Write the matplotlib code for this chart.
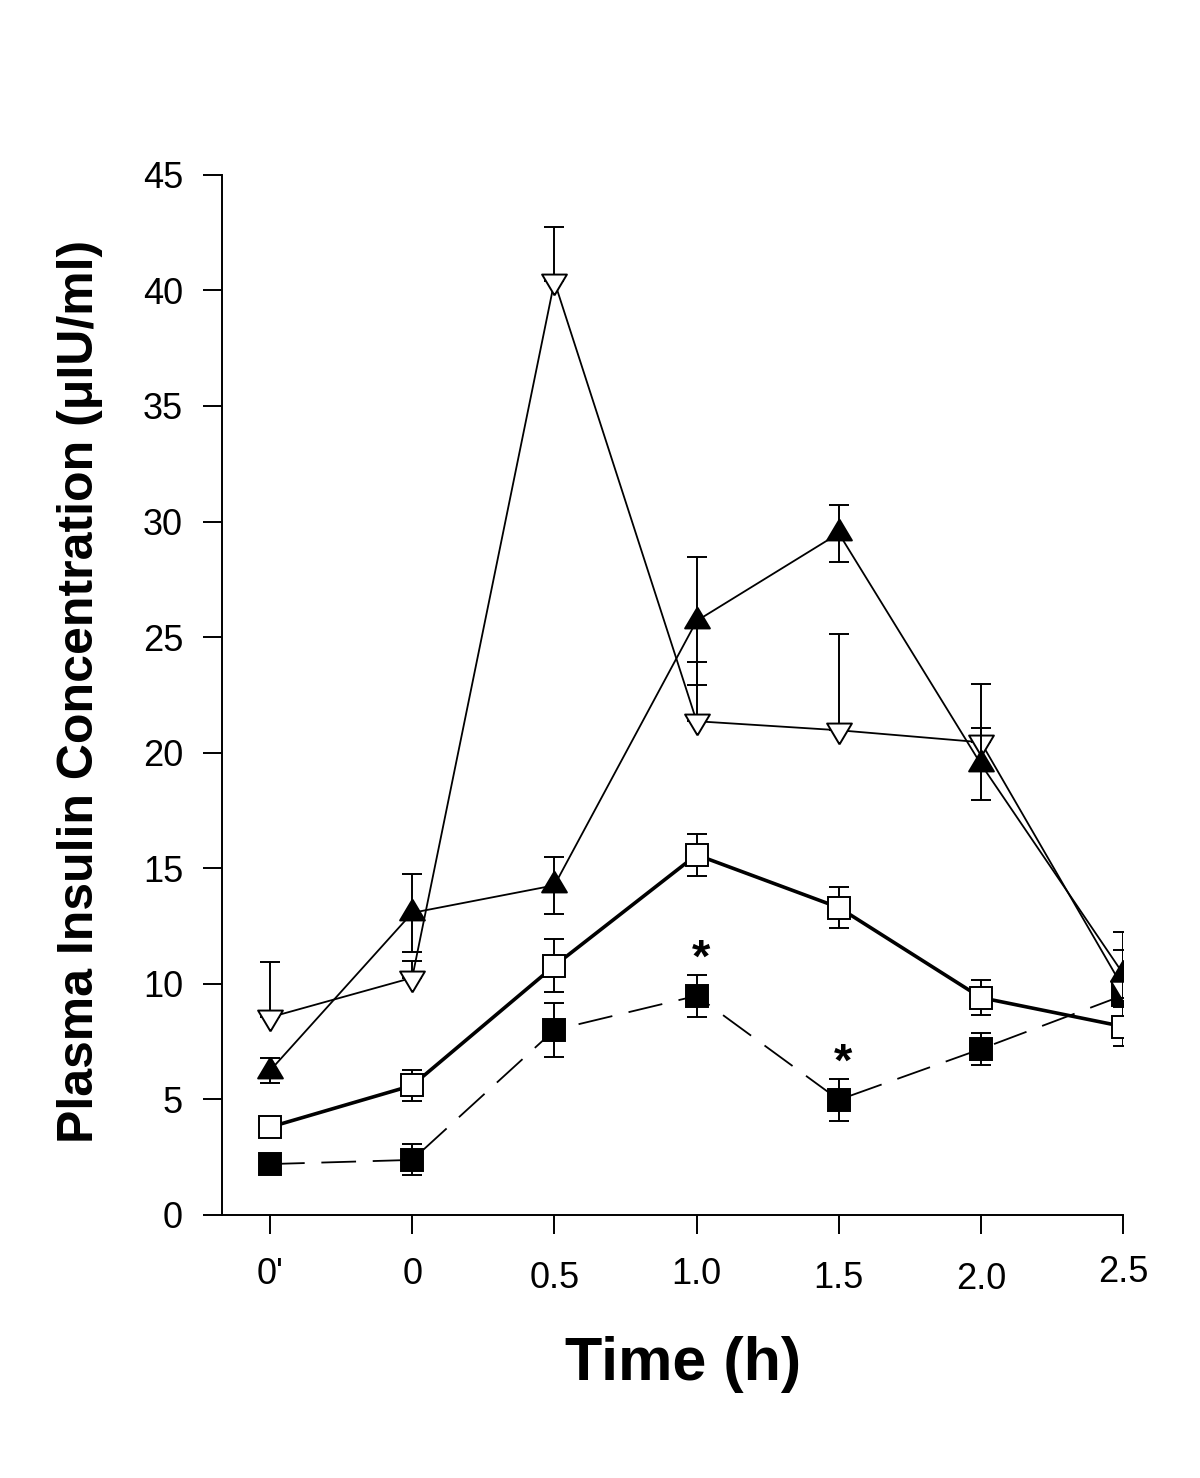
import numpy as np
import matplotlib
matplotlib.use("Agg")
import matplotlib.pyplot as plt
from matplotlib.transforms import ScaledTranslation

plt.rcParams['font.family'] = ['Liberation Sans', 'DejaVu Sans']
plt.rcParams['lines.scale_dashes'] = False

# time points (categorical)
time_labels = ["0'", "0", "0.5", "1.0", "1.5", "2.0", "2.5"]

# open down triangles (error bar only upward)
tri_down = [8.55, 10.26, 40.39, 21.36, 20.97, 20.45, 9.82]
tri_down_err = [2.4, 0.73, 2.36, 2.55, 4.17, 2.5, 2.4]

# filled up triangles
tri_up = [6.24, 13.07, 14.26, 25.7, 29.49, 19.5, 10.43]
tri_up_err = [0.54, 1.69, 1.23, 2.77, 1.23, 1.55, 1.04]

# open squares
sq_open = [3.8, 5.6, 10.78, 15.58, 13.3, 9.4, 8.15]
sq_open_err = [0.3, 0.65, 1.15, 0.9, 0.9, 0.75, 0.85]

# filled squares
sq_fill = [2.2, 2.38, 8.0, 9.48, 4.98, 7.18, 9.5]
sq_fill_err = [0.3, 0.67, 1.15, 0.9, 0.9, 0.7, 0.4]

# significance markers (index of time point, on filled squares)
star_idx = [3, 4]

x = np.arange(len(time_labels))

# triangle markers centred on their centroid
up_marker = [(0, 14), (-12.5, -7), (12.5, -7), (0, 14)]
down_marker = [(0, -14), (-12.5, 7), (12.5, 7), (0, -14)]

fig = plt.figure(figsize=(12, 14.78), dpi=100)
ax = fig.add_axes([0.185, 0.178, 0.751, 0.7037])

common = dict(color='black', ecolor='black', elinewidth=1.4, capsize=7.5,
              capthick=1.4, markeredgewidth=1.4, markeredgecolor='black')

# filled squares, dashed
ax.errorbar(x, sq_fill, yerr=sq_fill_err, marker='s', ms=15.5,
            markerfacecolor='black', lw=1.3, linestyle=(0, (25, 12)),
            zorder=2, **common)
# open squares, thick line
ax.errorbar(x, sq_open, yerr=sq_open_err, marker='s', ms=15.5,
            markerfacecolor='white', lw=2.6, zorder=3, **common)
# open down triangles
ax.errorbar(x, tri_down, yerr=[np.zeros(len(x)), tri_down_err],
            marker=down_marker, ms=20, markerfacecolor='white', lw=1.3,
            zorder=4, **common)
# filled up triangles
ax.errorbar(x, tri_up, yerr=tri_up_err, marker=up_marker, ms=20,
            markerfacecolor='black', lw=1.3, zorder=5, **common)

for i in star_idx:
    ax.annotate('*', (x[i], sq_fill[i] + sq_fill_err[i]), xytext=(3, -5),
                textcoords='offset points', ha='center', va='bottom',
                fontsize=34, fontweight='bold')

ax.set_xlim(-0.3375, 6.0)
ax.set_ylim(0, 45)
ax.set_xticks(x)
ax.set_xticklabels(time_labels)
ax.set_yticks(np.arange(0, 46, 5))

for s in ['top', 'right']:
    ax.spines[s].set_visible(False)
for s in ['left', 'bottom']:
    ax.spines[s].set_linewidth(1.4)

ax.tick_params(axis='both', direction='out', length=14, width=1.4,
               labelsize=26)
ax.tick_params(axis='y', pad=14)
ax.tick_params(axis='x', pad=16)

# slight vertical jitter of the x tick labels, as in the original
label_dy = [0, 0, -4, 0, -4, -5, 2]
for lab, dy in zip(ax.get_xticklabels(), label_dy):
    lab.set_transform(lab.get_transform() +
                      ScaledTranslation(0, dy / 100, fig.dpi_scale_trans))

ax.set_ylabel('Plasma Insulin Concentration (\u03bcIU/ml)', fontsize=36,
              fontweight='bold')
ax.yaxis.set_label_coords(-0.158, 0.503)
ax.yaxis.label.set_va('center')

ax.set_xlabel('Time (h)', fontsize=44, fontweight='bold')
ax.xaxis.set_label_coords(0.512, -0.144)
ax.xaxis.label.set_va('center')

fig.savefig('out.png', dpi=100)
